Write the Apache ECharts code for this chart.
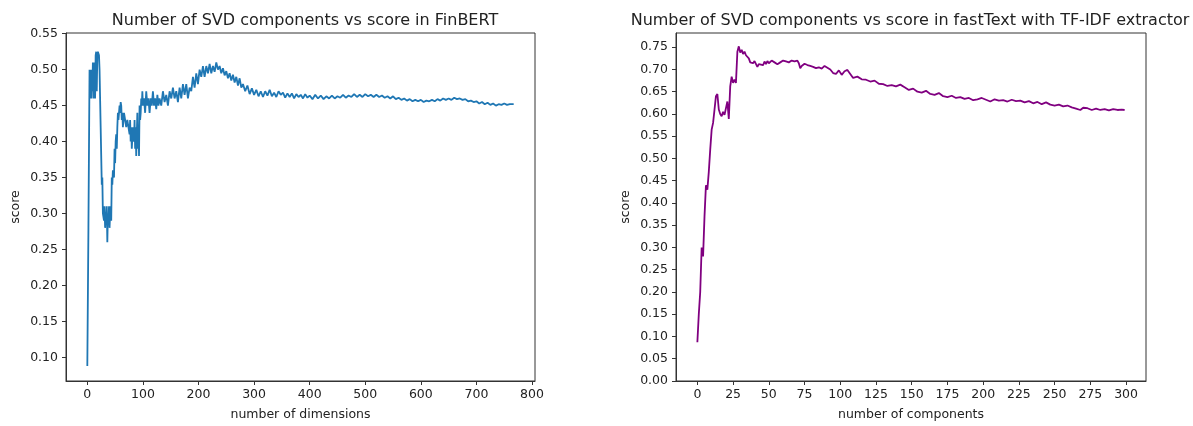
<!DOCTYPE html>
<html lang="en">
<head>
    <meta charset="UTF-8">
    <title>SVD components vs score</title>
    <script src="https://cdn.jsdelivr.net/npm/echarts@6/dist/echarts.min.js"></script>
    <style>
        html, body { margin: 0; padding: 0; background: #fff; }
    </style>
</head>
<body>
<div id="main" style="width: 1193px;height:426px;"></div>
<script type="text/javascript">
    // FinBERT: number of dimensions -> score
    var finbertDims = [0, 2, 4, 5, 6, 7, 8, 9, 10, 11, 12, 13, 14, 15, 16, 17, 18, 19, 20, 21, 22, 24, 26, 27, 28, 30, 31, 32, 33, 34, 35, 36, 37, 38, 39, 40, 41, 42, 43, 44, 45, 46, 48, 49, 50, 51, 52, 53, 54, 55, 56, 57, 58, 59, 60, 61, 62, 63, 64, 66, 68, 70, 72, 74, 76, 77, 78, 79, 80, 82, 84, 85, 86, 87, 88, 90, 91, 92, 93, 94, 95, 96, 97, 98, 99, 100, 102, 104, 106, 108, 110, 112, 114, 116, 118, 120, 122, 124, 126, 128, 130, 133, 136, 139, 142, 145, 148, 151, 154, 157, 160, 163, 166, 169, 172, 175, 178, 181, 184, 187, 190, 193, 196, 199, 202, 205, 208, 211, 214, 217, 220, 223, 226, 229, 232, 235, 238, 241, 244, 247, 250, 253, 256, 259, 262, 265, 268, 271, 274, 277, 280, 284, 288, 292, 296, 300, 304, 308, 312, 316, 320, 324, 328, 332, 336, 340, 344, 348, 352, 356, 360, 364, 368, 372, 376, 380, 384, 388, 392, 396, 400, 405, 410, 415, 420, 425, 430, 435, 440, 445, 450, 455, 460, 465, 470, 475, 480, 485, 490, 495, 500, 505, 510, 515, 520, 525, 530, 535, 540, 545, 550, 555, 560, 565, 570, 575, 580, 585, 590, 595, 600, 605, 610, 615, 620, 625, 630, 635, 640, 645, 650, 655, 660, 665, 670, 675, 680, 685, 690, 695, 700, 705, 710, 715, 720, 725, 730, 735, 740, 745, 750, 755, 760, 767];
    var finbertScores = [0.088, 0.28, 0.50, 0.46, 0.50, 0.46, 0.50, 0.47, 0.51, 0.46, 0.50, 0.51, 0.46, 0.52, 0.525, 0.47, 0.52, 0.525, 0.525, 0.52, 0.50, 0.42, 0.34, 0.35, 0.30, 0.29, 0.31, 0.28, 0.30, 0.29, 0.31, 0.26, 0.30, 0.29, 0.31, 0.28, 0.30, 0.31, 0.29, 0.35, 0.34, 0.36, 0.35, 0.39, 0.37, 0.40, 0.41, 0.39, 0.42, 0.44, 0.43, 0.44, 0.45, 0.44, 0.455, 0.45, 0.43, 0.44, 0.42, 0.44, 0.43, 0.42, 0.43, 0.42, 0.41, 0.43, 0.40, 0.42, 0.39, 0.42, 0.40, 0.43, 0.39, 0.42, 0.38, 0.44, 0.39, 0.42, 0.38, 0.45, 0.43, 0.44, 0.46, 0.45, 0.47, 0.45, 0.46, 0.44, 0.47, 0.45, 0.46, 0.44, 0.46, 0.45, 0.47, 0.45, 0.46, 0.445, 0.465, 0.45, 0.46, 0.45, 0.47, 0.455, 0.465, 0.45, 0.47, 0.46, 0.475, 0.46, 0.47, 0.455, 0.475, 0.46, 0.48, 0.465, 0.48, 0.46, 0.475, 0.47, 0.49, 0.475, 0.495, 0.48, 0.50, 0.49, 0.505, 0.49, 0.505, 0.495, 0.508, 0.495, 0.505, 0.497, 0.51, 0.50, 0.505, 0.495, 0.502, 0.492, 0.498, 0.488, 0.495, 0.485, 0.493, 0.482, 0.49, 0.478, 0.488, 0.475, 0.48, 0.47, 0.478, 0.466, 0.474, 0.465, 0.472, 0.463, 0.47, 0.462, 0.47, 0.464, 0.472, 0.463, 0.468, 0.462, 0.47, 0.465, 0.468, 0.461, 0.467, 0.462, 0.467, 0.46, 0.466, 0.462, 0.465, 0.46, 0.466, 0.461, 0.464, 0.459, 0.465, 0.46, 0.464, 0.459, 0.463, 0.46, 0.464, 0.46, 0.463, 0.461, 0.465, 0.461, 0.464, 0.462, 0.466, 0.462, 0.465, 0.462, 0.466, 0.463, 0.465, 0.462, 0.465, 0.462, 0.464, 0.461, 0.463, 0.46, 0.463, 0.459, 0.461, 0.458, 0.46, 0.457, 0.459, 0.456, 0.458, 0.456, 0.458, 0.455, 0.457, 0.456, 0.458, 0.456, 0.459, 0.457, 0.46, 0.458, 0.46, 0.458, 0.461, 0.459, 0.46, 0.458, 0.459, 0.456, 0.457, 0.455, 0.456, 0.453, 0.455, 0.452, 0.454, 0.451, 0.453, 0.45, 0.452, 0.451, 0.453, 0.451, 0.452, 0.452];

    // fastText + TF-IDF: number of components -> score
    var fasttextComps = [0, 1, 2, 3, 4, 5, 6, 7, 8, 9, 10, 11, 12, 13, 14, 15, 16, 17, 18, 19, 20, 21, 22, 23, 24, 25, 26, 27, 28, 29, 30, 31, 32, 33, 34, 35, 36, 37, 38, 39, 40, 41, 42, 43, 44, 46, 47, 48, 49, 50, 52, 54, 56, 58, 60, 62, 64, 66, 68, 70, 71, 72, 73, 75, 77, 79, 81, 83, 85, 87, 89, 91, 93, 95, 97, 99, 101, 103, 105, 107, 109, 112, 115, 118, 121, 124, 127, 130, 133, 136, 139, 142, 145, 148, 151, 154, 157, 160, 163, 166, 169, 172, 175, 178, 181, 184, 187, 190, 193, 196, 199, 202, 205, 208, 211, 214, 217, 220, 223, 226, 229, 232, 235, 238, 241, 244, 247, 250, 253, 256, 259, 262, 265, 268, 270, 273, 276, 279, 282, 285, 288, 291, 294, 297, 299];
    var fasttextScores = [0.087, 0.15, 0.20, 0.30, 0.28, 0.37, 0.44, 0.43, 0.47, 0.52, 0.565, 0.58, 0.61, 0.64, 0.645, 0.61, 0.60, 0.595, 0.605, 0.598, 0.595, 0.628, 0.589, 0.662, 0.684, 0.67, 0.677, 0.67, 0.74, 0.752, 0.738, 0.744, 0.735, 0.74, 0.732, 0.733, 0.725, 0.716, 0.712, 0.714, 0.719, 0.718, 0.706, 0.712, 0.714, 0.71, 0.718, 0.712, 0.719, 0.714, 0.72, 0.716, 0.712, 0.716, 0.72, 0.718, 0.716, 0.72, 0.718, 0.72, 0.714, 0.703, 0.708, 0.713, 0.71, 0.708, 0.706, 0.703, 0.705, 0.702, 0.708, 0.704, 0.70, 0.692, 0.69, 0.698, 0.688, 0.696, 0.699, 0.69, 0.681, 0.684, 0.678, 0.677, 0.673, 0.675, 0.668, 0.667, 0.663, 0.665, 0.662, 0.666, 0.66, 0.654, 0.657, 0.65, 0.648, 0.652, 0.645, 0.643, 0.647, 0.64, 0.638, 0.641, 0.636, 0.638, 0.634, 0.636, 0.631, 0.633, 0.636, 0.632, 0.628, 0.633, 0.63, 0.631, 0.628, 0.632, 0.629, 0.63, 0.626, 0.629, 0.624, 0.627, 0.622, 0.626, 0.621, 0.619, 0.621, 0.617, 0.619, 0.615, 0.612, 0.609, 0.614, 0.613, 0.609, 0.612, 0.609, 0.611, 0.608, 0.611, 0.609, 0.61, 0.609];

    // tick labels
    var finbertXTicks = [0, 100, 200, 300, 400, 500, 600, 700, 800];
    var finbertYTicks = [0.10, 0.15, 0.20, 0.25, 0.30, 0.35, 0.40, 0.45, 0.50, 0.55];
    var fasttextXTicks = [0, 25, 50, 75, 100, 125, 150, 175, 200, 225, 250, 275, 300];
    var fasttextYTicks = [0, 0.05, 0.10, 0.15, 0.20, 0.25, 0.30, 0.35, 0.40, 0.45, 0.50, 0.55, 0.60, 0.65, 0.70, 0.75];

    function pairs(xs, ys) {
        var out = [];
        for (var i = 0; i < xs.length; i++) out.push([xs[i], ys[i]]);
        return out;
    }

    var FONT = 'DejaVu Sans';
    var TEXT = '#222';
    var axisLine = { show: true, onZero: false, lineStyle: { color: '#333', width: 1 } };
    var axisTick = { show: true, length: 4, inside: false, lineStyle: { color: '#333', width: 1 } };

    function xAxis(grid, min, max, ticks, name) {
        return {
            type: 'value', gridIndex: grid, min: min, max: max,
            name: name, nameLocation: 'middle', nameGap: 27,
            nameTextStyle: { fontFamily: FONT, fontSize: 12.5, color: TEXT },
            axisLine: axisLine,
            axisTick: Object.assign({ customValues: ticks }, axisTick),
            axisLabel: { customValues: ticks, margin: 7, fontFamily: FONT, fontSize: 12.5, color: TEXT },
            splitLine: { show: false }
        };
    }
    function yAxis(grid, min, max, ticks) {
        return {
            type: 'value', gridIndex: grid, min: min, max: max,
            name: 'score', nameLocation: 'middle', nameGap: 44, nameRotate: 90,
            nameTextStyle: { fontFamily: FONT, fontSize: 12.5, color: TEXT },
            axisLine: axisLine,
            axisTick: Object.assign({ customValues: ticks }, axisTick),
            axisLabel: {
                customValues: ticks, margin: 8, fontFamily: FONT, fontSize: 12.5, color: TEXT,
                formatter: function (v) { return v.toFixed(2); }
            },
            splitLine: { show: false }
        };
    }

    var myChart = echarts.init(document.getElementById('main'));
    myChart.setOption({
        animation: false,
        backgroundColor: '#fff',
        title: [
            {
                text: 'Number of SVD components vs score in FinBERT',
                left: 300, top: 8, textAlign: 'center',
                textStyle: { fontFamily: FONT, fontSize: 16, fontWeight: 'normal', color: TEXT }
            },
            {
                text: 'Number of SVD components vs score in fastText with TF-IDF extractor',
                left: 905, top: 8, textAlign: 'center',
                textStyle: { fontFamily: FONT, fontSize: 16, fontWeight: 'normal', color: TEXT }
            }
        ],
        grid: [
            { left: 66, top: 33, width: 469, height: 349, show: true, borderColor: '#333', borderWidth: 1, containLabel: false },
            { left: 676, top: 33, width: 470, height: 349, show: true, borderColor: '#333', borderWidth: 1, containLabel: false }
        ],
        xAxis: [
            xAxis(0, -38.35, 805.35, finbertXTicks, 'number of dimensions'),
            xAxis(1, -14.95, 313.95, fasttextXTicks, 'number of components')
        ],
        yAxis: [
            yAxis(0, 0.067, 0.551, finbertYTicks),
            yAxis(1, 0, 0.782, fasttextYTicks)
        ],
        series: [
            {
                type: 'line', xAxisIndex: 0, yAxisIndex: 0,
                data: pairs(finbertDims, finbertScores),
                showSymbol: false, clip: true,
                lineStyle: { color: '#1f77b4', width: 1.8 }
            },
            {
                type: 'line', xAxisIndex: 1, yAxisIndex: 1,
                data: pairs(fasttextComps, fasttextScores),
                showSymbol: false, clip: true,
                lineStyle: { color: '#800080', width: 1.8 }
            }
        ]
    });
</script>
</body>
</html>
